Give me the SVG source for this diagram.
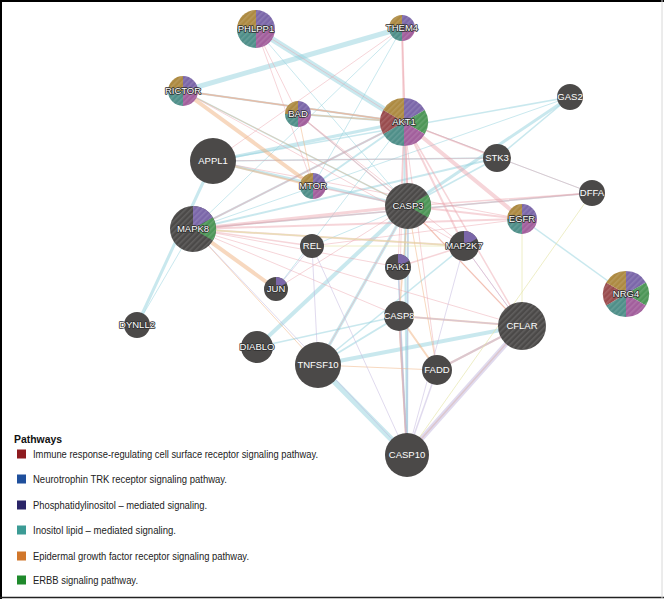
<svg xmlns="http://www.w3.org/2000/svg" width="664" height="599" viewBox="0 0 664 599">
<defs>
<pattern id="hatch" width="4" height="4" patternUnits="userSpaceOnUse" patternTransform="rotate(45)">
<rect width="1.6" height="4" fill="#ffffff" opacity="0.12"/>
</pattern>
<style>
.bg{fill:#ffffff}
.e line{fill:none;stroke-linecap:round}
.b{stroke:#93d2dd;opacity:0.5}
.p{stroke:#eba2ab;opacity:0.45}
.o{stroke:#f0b27f;opacity:0.5}
.l{stroke:#c2b5de;opacity:0.5}
.y{stroke:#e3e2a2;opacity:0.6}
.base{fill:#4b4948}
.hat{fill:url(#hatch)}
.sO{fill:#ad8a42}
.sP{fill:#7b67a9}
.sG{fill:#4d9657}
.sK{fill:#a25f9c}
.sT{fill:#4f8f89}
.sR{fill:#994c4e}
.lbl{font-family:"Liberation Sans",Arial,sans-serif;font-size:9.5px;fill:#ffffff;text-anchor:middle}
.lbo{font-family:"Liberation Sans",Arial,sans-serif;font-size:9.5px;fill:#ffffff;text-anchor:middle;stroke:#2f2f2f;stroke-width:1.6;paint-order:stroke;stroke-linejoin:round}
.lg{font-family:"Liberation Sans",Arial,sans-serif;font-size:10.5px;fill:#222222}
.lgt{font-family:"Liberation Sans",Arial,sans-serif;font-size:10.5px;font-weight:bold;fill:#111111}
</style>
</defs>
<rect class="bg" x="0" y="0" width="664" height="599"/>

<g id="connectors" class="e">
<!-- blue -->
<line class="b" x1="256" y1="29" x2="404" y2="122" stroke-width="6"/>
<line class="b" x1="402" y1="28" x2="183" y2="91" stroke-width="5"/>
<line class="b" x1="137" y1="325" x2="213" y2="161" stroke-width="3"/>
<line class="b" x1="570" y1="97" x2="408" y2="206" stroke-width="3"/>
<line class="b" x1="570" y1="97" x2="497" y2="158" stroke-width="1.5"/>
<line class="b" x1="570" y1="97" x2="213" y2="161" stroke-width="1.5"/>
<line class="b" x1="570" y1="97" x2="193" y2="229" stroke-width="1"/>
<line class="b" x1="318" y1="365" x2="407" y2="455" stroke-width="6"/>
<line class="b" x1="318" y1="365" x2="522" y2="326" stroke-width="4"/>
<line class="b" x1="257" y1="347" x2="408" y2="206" stroke-width="4"/>
<line class="b" x1="318" y1="365" x2="408" y2="206" stroke-width="3"/>
<line class="b" x1="318" y1="365" x2="399" y2="316" stroke-width="2"/>
<line class="b" x1="213" y1="161" x2="404" y2="122" stroke-width="3"/>
<line class="b" x1="183" y1="91" x2="404" y2="122" stroke-width="2"/>
<line class="b" x1="193" y1="229" x2="404" y2="122" stroke-width="2"/>
<line class="b" x1="213" y1="161" x2="408" y2="206" stroke-width="3"/>
<line class="b" x1="313" y1="186" x2="404" y2="122" stroke-width="2"/>
<line class="b" x1="497" y1="158" x2="193" y2="229" stroke-width="2"/>
<line class="b" x1="497" y1="158" x2="213" y2="161" stroke-width="1.5"/>
<line class="b" x1="497" y1="158" x2="408" y2="206" stroke-width="1.5"/>
<line class="b" x1="522" y1="219" x2="626" y2="294" stroke-width="1.5"/>
<line class="b" x1="298" y1="114" x2="404" y2="122" stroke-width="2"/>
<line class="b" x1="183" y1="91" x2="408" y2="206" stroke-width="1.5"/>
<line class="b" x1="408" y1="206" x2="407" y2="455" stroke-width="2"/>
<line class="b" x1="592" y1="193" x2="193" y2="229" stroke-width="1.5"/>
<line class="b" x1="592" y1="193" x2="404" y2="122" stroke-width="1"/>
<line class="b" x1="404" y1="122" x2="407" y2="455" stroke-width="2"/>
<line class="b" x1="402" y1="28" x2="313" y2="186" stroke-width="1"/>
<line class="b" x1="402" y1="28" x2="193" y2="229" stroke-width="1"/>
<line class="b" x1="298" y1="114" x2="408" y2="206" stroke-width="1"/>
<line class="b" x1="312" y1="246" x2="408" y2="206" stroke-width="1"/>
<line class="b" x1="257" y1="347" x2="399" y2="316" stroke-width="1.5"/>
<line class="b" x1="137" y1="325" x2="193" y2="229" stroke-width="1"/>
<line class="b" x1="256" y1="29" x2="408" y2="206" stroke-width="1"/>
<line class="b" x1="276" y1="289" x2="404" y2="122" stroke-width="1"/>
<line class="b" x1="318" y1="365" x2="464" y2="246" stroke-width="1.5"/>
<line class="b" x1="398" y1="267" x2="407" y2="455" stroke-width="1.5"/>
<!-- pink -->
<line class="p" x1="404" y1="122" x2="522" y2="219" stroke-width="4"/>
<line class="p" x1="193" y1="229" x2="408" y2="206" stroke-width="3"/>
<line class="p" x1="193" y1="229" x2="464" y2="246" stroke-width="2"/>
<line class="p" x1="193" y1="229" x2="522" y2="219" stroke-width="2"/>
<line class="p" x1="408" y1="206" x2="522" y2="219" stroke-width="2"/>
<line class="p" x1="402" y1="28" x2="404" y2="122" stroke-width="2"/>
<line class="p" x1="402" y1="28" x2="408" y2="206" stroke-width="1.5"/>
<line class="p" x1="256" y1="29" x2="313" y2="186" stroke-width="1"/>
<line class="p" x1="404" y1="122" x2="408" y2="206" stroke-width="2"/>
<line class="p" x1="298" y1="114" x2="408" y2="206" stroke-width="1.5"/>
<line class="p" x1="404" y1="122" x2="464" y2="246" stroke-width="2"/>
<line class="p" x1="183" y1="91" x2="464" y2="246" stroke-width="1"/>
<line class="p" x1="213" y1="161" x2="522" y2="219" stroke-width="1"/>
<line class="p" x1="193" y1="229" x2="592" y2="193" stroke-width="1.5"/>
<line class="p" x1="404" y1="122" x2="592" y2="193" stroke-width="1"/>
<line class="p" x1="408" y1="206" x2="592" y2="193" stroke-width="1.5"/>
<line class="p" x1="298" y1="114" x2="464" y2="246" stroke-width="1"/>
<line class="p" x1="404" y1="122" x2="522" y2="326" stroke-width="1.5"/>
<line class="p" x1="404" y1="122" x2="399" y2="316" stroke-width="1"/>
<line class="p" x1="398" y1="267" x2="464" y2="246" stroke-width="1.5"/>
<line class="p" x1="193" y1="229" x2="312" y2="246" stroke-width="1.5"/>
<line class="p" x1="193" y1="229" x2="404" y2="122" stroke-width="1.5"/>
<line class="p" x1="402" y1="28" x2="213" y2="161" stroke-width="1"/>
<line class="p" x1="256" y1="29" x2="298" y2="114" stroke-width="1"/>
<line class="p" x1="313" y1="186" x2="408" y2="206" stroke-width="1.5"/>
<line class="p" x1="213" y1="161" x2="497" y2="158" stroke-width="1"/>
<line class="p" x1="408" y1="206" x2="522" y2="326" stroke-width="1.5"/>
<line class="p" x1="276" y1="289" x2="408" y2="206" stroke-width="1"/>
<line class="p" x1="404" y1="122" x2="398" y2="267" stroke-width="1"/>
<line class="p" x1="183" y1="91" x2="404" y2="122" stroke-width="1.5"/>
<line class="p" x1="404" y1="122" x2="497" y2="158" stroke-width="1.5"/>
<line class="p" x1="193" y1="229" x2="399" y2="316" stroke-width="1"/>
<line class="p" x1="193" y1="229" x2="398" y2="267" stroke-width="1"/>
<line class="p" x1="464" y1="246" x2="522" y2="326" stroke-width="1"/>
<line class="p" x1="399" y1="316" x2="407" y2="455" stroke-width="1.5"/>
<line class="p" x1="256" y1="29" x2="404" y2="122" stroke-width="1"/>
<line class="p" x1="193" y1="229" x2="522" y2="326" stroke-width="1"/>
<line class="p" x1="312" y1="246" x2="522" y2="219" stroke-width="1"/>
<line class="p" x1="318" y1="365" x2="408" y2="206" stroke-width="1"/>
<line class="p" x1="404" y1="122" x2="437" y2="370" stroke-width="1"/>
<!-- orange -->
<line class="o" x1="183" y1="91" x2="313" y2="186" stroke-width="4"/>
<line class="o" x1="193" y1="229" x2="276" y2="289" stroke-width="4"/>
<line class="o" x1="213" y1="161" x2="313" y2="186" stroke-width="2"/>
<line class="o" x1="298" y1="114" x2="313" y2="186" stroke-width="1"/>
<line class="o" x1="399" y1="316" x2="522" y2="326" stroke-width="2"/>
<line class="o" x1="437" y1="370" x2="399" y2="316" stroke-width="2"/>
<line class="o" x1="437" y1="370" x2="522" y2="326" stroke-width="2"/>
<line class="o" x1="407" y1="455" x2="399" y2="316" stroke-width="2"/>
<line class="o" x1="193" y1="229" x2="318" y2="365" stroke-width="1"/>
<line class="o" x1="183" y1="91" x2="404" y2="122" stroke-width="1.5"/>
<line class="o" x1="408" y1="206" x2="399" y2="316" stroke-width="1.5"/>
<line class="o" x1="522" y1="326" x2="408" y2="206" stroke-width="1"/>
<line class="o" x1="318" y1="365" x2="437" y2="370" stroke-width="1"/>
<line class="o" x1="183" y1="91" x2="408" y2="206" stroke-width="1"/>
<line class="o" x1="298" y1="114" x2="404" y2="122" stroke-width="1.5"/>
<line class="o" x1="407" y1="455" x2="522" y2="326" stroke-width="1.5"/>
<line class="o" x1="437" y1="370" x2="408" y2="206" stroke-width="1"/>
<!-- lavender -->
<line class="l" x1="407" y1="455" x2="522" y2="326" stroke-width="5"/>
<line class="l" x1="437" y1="370" x2="522" y2="326" stroke-width="2"/>
<line class="l" x1="399" y1="316" x2="407" y2="455" stroke-width="1.5"/>
<line class="l" x1="312" y1="246" x2="318" y2="365" stroke-width="1"/>
<line class="l" x1="312" y1="246" x2="276" y2="289" stroke-width="1"/>
<line class="l" x1="398" y1="267" x2="407" y2="455" stroke-width="1"/>
<line class="l" x1="408" y1="206" x2="407" y2="455" stroke-width="1"/>
<line class="l" x1="522" y1="326" x2="399" y2="316" stroke-width="1.5"/>
<line class="l" x1="464" y1="246" x2="407" y2="455" stroke-width="1"/>
<line class="l" x1="464" y1="246" x2="522" y2="326" stroke-width="1"/>
<line class="l" x1="193" y1="229" x2="407" y2="455" stroke-width="1"/>
<line class="l" x1="312" y1="246" x2="407" y2="455" stroke-width="1"/>
<line class="l" x1="437" y1="370" x2="407" y2="455" stroke-width="1.5"/>
<!-- yellow -->
<line class="y" x1="592" y1="193" x2="407" y2="455" stroke-width="1"/>
<line class="y" x1="193" y1="229" x2="464" y2="246" stroke-width="1.5"/>
<line class="y" x1="312" y1="246" x2="464" y2="246" stroke-width="1"/>
<line class="y" x1="522" y1="219" x2="522" y2="326" stroke-width="1"/>
</g>

<g id="node-PHLPP1" transform="translate(256,29)">
<path class="sO" d="M0,0 L-19,0 A19,19 0 0 1 0,-19 Z"/>
<path class="sP" d="M0,0 L0,-19 A19,19 0 0 1 19,0 Z"/>
<path class="sK" d="M0,0 L19,0 A19,19 0 0 1 0,19 Z"/>
<path class="sT" d="M0,0 L0,19 A19,19 0 0 1 -19,0 Z"/>
<circle class="hat" r="19"/>
<text class="lbo" y="3.3">PHLPP1</text>
</g>
<g id="node-THEM4" transform="translate(402,28)">
<path class="sO" d="M0,0 L-13,0 A13,13 0 0 1 0,-13 Z"/>
<path class="sP" d="M0,0 L0,-13 A13,13 0 0 1 13,0 Z"/>
<path class="sK" d="M0,0 L13,0 A13,13 0 0 1 0,13 Z"/>
<path class="sT" d="M0,0 L0,13 A13,13 0 0 1 -13,0 Z"/>
<circle class="hat" r="13"/>
<text class="lbo" y="3.3">THEM4</text>
</g>
<g id="node-RICTOR" transform="translate(183,91)">
<path class="sO" d="M0,0 L-15,0 A15,15 0 0 1 0,-15 Z"/>
<path class="sP" d="M0,0 L0,-15 A15,15 0 0 1 15,0 Z"/>
<path class="sK" d="M0,0 L15,0 A15,15 0 0 1 0,15 Z"/>
<path class="sT" d="M0,0 L0,15 A15,15 0 0 1 -15,0 Z"/>
<circle class="hat" r="15"/>
<text class="lbo" y="3.3">RICTOR</text>
</g>
<g id="node-BAD" transform="translate(298,114)">
<path class="sO" d="M0,0 L-13,0 A13,13 0 0 1 0,-13 Z"/>
<path class="sP" d="M0,0 L0,-13 A13,13 0 0 1 13,0 Z"/>
<path class="sK" d="M0,0 L13,0 A13,13 0 0 1 0,13 Z"/>
<path class="sT" d="M0,0 L0,13 A13,13 0 0 1 -13,0 Z"/>
<circle class="hat" r="13"/>
<text class="lbo" y="3.3">BAD</text>
</g>
<g id="node-AKT1" transform="translate(404,122)">
<path class="sP" d="M0,0 L0,-24 A24,24 0 0 1 20.78,-12 Z"/>
<path class="sG" d="M0,0 L20.78,-12 A24,24 0 0 1 20.78,12 Z"/>
<path class="sK" d="M0,0 L20.78,12 A24,24 0 0 1 0,24 Z"/>
<path class="sT" d="M0,0 L0,24 A24,24 0 0 1 -20.78,12 Z"/>
<path class="sR" d="M0,0 L-20.78,12 A24,24 0 0 1 -20.78,-12 Z"/>
<path class="sO" d="M0,0 L-20.78,-12 A24,24 0 0 1 0,-24 Z"/>
<circle class="hat" r="24"/>
<text class="lbo" y="3.3">AKT1</text>
</g>
<g id="node-GAS2" transform="translate(570,97)">
<circle class="base" r="13"/>
<text class="lbl" y="3.3">GAS2</text>
</g>
<g id="node-APPL1" transform="translate(213,161)">
<circle class="base" r="23"/>
<text class="lbl" y="3.3">APPL1</text>
</g>
<g id="node-STK3" transform="translate(497,158)">
<circle class="base" r="14"/>
<text class="lbl" y="3.3">STK3</text>
</g>
<g id="node-MTOR" transform="translate(313,186)">
<path class="sO" d="M0,0 L-13,0 A13,13 0 0 1 0,-13 Z"/>
<path class="sP" d="M0,0 L0,-13 A13,13 0 0 1 13,0 Z"/>
<path class="sK" d="M0,0 L13,0 A13,13 0 0 1 0,13 Z"/>
<path class="sT" d="M0,0 L0,13 A13,13 0 0 1 -13,0 Z"/>
<circle class="hat" r="13"/>
<text class="lbo" y="3.3">MTOR</text>
</g>
<g id="node-DFFA" transform="translate(592,193)">
<circle class="base" r="13"/>
<text class="lbl" y="3.3">DFFA</text>
</g>
<g id="node-CASP3" transform="translate(408,206)">
<circle class="base" r="23"/>
<path class="sG" d="M0,0 L19.92,-11.5 A23,23 0 0 1 19.92,11.5 Z"/>
<circle class="hat" r="23"/>
<text class="lbo" y="3.3">CASP3</text>
</g>
<g id="node-EGFR" transform="translate(522,219)">
<path class="sO" d="M0,0 L-15,0 A15,15 0 0 1 0,-15 Z"/>
<path class="sP" d="M0,0 L0,-15 A15,15 0 0 1 15,0 Z"/>
<path class="sK" d="M0,0 L15,0 A15,15 0 0 1 0,15 Z"/>
<path class="sT" d="M0,0 L0,15 A15,15 0 0 1 -15,0 Z"/>
<circle class="hat" r="15"/>
<text class="lbo" y="3.3">EGFR</text>
</g>
<g id="node-MAPK8" transform="translate(193,229)">
<circle class="base" r="23"/>
<path class="sP" d="M0,0 L0,-23 A23,23 0 0 1 19.92,-11.5 Z"/>
<path class="sG" d="M0,0 L19.92,-11.5 A23,23 0 0 1 19.92,11.5 Z"/>
<circle class="hat" r="23"/>
<text class="lbo" y="3.3">MAPK8</text>
</g>
<g id="node-REL" transform="translate(312,246)">
<circle class="base" r="12"/>
<text class="lbl" y="3.3">REL</text>
</g>
<g id="node-MAP2K7" transform="translate(464,246)">
<circle class="base" r="15"/>
<path class="sP" d="M0,0 L0,-15 A15,15 0 0 1 12.99,-7.5 Z"/>
<text class="lbo" y="3.3">MAP2K7</text>
</g>
<g id="node-PAK1" transform="translate(398,267)">
<circle class="base" r="13"/>
<path class="sP" d="M0,0 L0,-13 A13,13 0 0 1 11.26,-6.5 Z"/>
<text class="lbo" y="3.3">PAK1</text>
</g>
<g id="node-JUN" transform="translate(276,289)">
<circle class="base" r="12"/>
<path class="sP" d="M0,0 L0,-12 A12,12 0 0 1 10.39,-6 Z"/>
<text class="lbo" y="3.3">JUN</text>
</g>
<g id="node-NRG4" transform="translate(626,294)">
<path class="sP" d="M0,0 L0,-23 A23,23 0 0 1 19.92,-11.5 Z"/>
<path class="sG" d="M0,0 L19.92,-11.5 A23,23 0 0 1 19.92,11.5 Z"/>
<path class="sK" d="M0,0 L19.92,11.5 A23,23 0 0 1 0,23 Z"/>
<path class="sT" d="M0,0 L0,23 A23,23 0 0 1 -19.92,11.5 Z"/>
<path class="sR" d="M0,0 L-19.92,11.5 A23,23 0 0 1 -19.92,-11.5 Z"/>
<path class="sO" d="M0,0 L-19.92,-11.5 A23,23 0 0 1 0,-23 Z"/>
<circle class="hat" r="23"/>
<text class="lbo" y="3.3">NRG4</text>
</g>
<g id="node-CASP8" transform="translate(399,316)">
<circle class="base" r="15"/>
<text class="lbl" y="3.3">CASP8</text>
</g>
<g id="node-CFLAR" transform="translate(522,326)">
<circle class="base" r="24"/>
<circle class="hat" r="24"/>
<text class="lbl" y="3.3">CFLAR</text>
</g>
<g id="node-DYNLL2" transform="translate(137,325)">
<circle class="base" r="13"/>
<text class="lbo" y="3.3">DYNLL2</text>
</g>
<g id="node-DIABLO" transform="translate(257,347)">
<circle class="base" r="16"/>
<text class="lbo" y="3.3">DIABLO</text>
</g>
<g id="node-TNFSF10" transform="translate(318,365)">
<circle class="base" r="23"/>
<text class="lbl" y="3.3">TNFSF10</text>
</g>
<g id="node-FADD" transform="translate(437,370)">
<circle class="base" r="15"/>
<text class="lbl" y="3.3">FADD</text>
</g>
<g id="node-CASP10" transform="translate(407,455)">
<circle class="base" r="22"/>
<text class="lbl" y="3.3">CASP10</text>
</g>

<g id="legend">
<text class="lgt" x="14" y="443" textLength="48" lengthAdjust="spacingAndGlyphs">Pathways</text>
<rect x="17" y="449.5" width="9" height="9" fill="#8e1b1f"/>
<text class="lg" x="33" y="457.5" textLength="285" lengthAdjust="spacingAndGlyphs">Immune response-regulating cell surface receptor signaling pathway.</text>
<rect x="17" y="474.5" width="9" height="9" fill="#1f4f9c"/>
<text class="lg" x="33" y="482.5" textLength="194" lengthAdjust="spacingAndGlyphs">Neurotrophin TRK receptor signaling pathway.</text>
<rect x="17" y="500.5" width="9" height="9" fill="#2a2568"/>
<text class="lg" x="33" y="508.5" textLength="174" lengthAdjust="spacingAndGlyphs">Phosphatidylinositol – mediated signaling.</text>
<rect x="17" y="525.5" width="9" height="9" fill="#3c9b95"/>
<text class="lg" x="33" y="533.5" textLength="143" lengthAdjust="spacingAndGlyphs">Inositol lipid – mediated signaling.</text>
<rect x="17" y="551.5" width="9" height="9" fill="#d1772b"/>
<text class="lg" x="33" y="559.5" textLength="216" lengthAdjust="spacingAndGlyphs">Epidermal growth factor receptor signaling pathway.</text>
<rect x="17" y="575.5" width="9" height="9" fill="#1f8a2c"/>
<text class="lg" x="33" y="583.5" textLength="105" lengthAdjust="spacingAndGlyphs">ERBB signaling pathway.</text>
</g>

<g id="frame">
<line x1="0" y1="1" x2="664" y2="1" stroke="#000000" stroke-width="2"/>
<line x1="1" y1="0" x2="1" y2="599" stroke="#000000" stroke-width="2"/>
<line x1="0" y1="597.5" x2="664" y2="597.5" stroke="#222222" stroke-width="1.5"/>
<line x1="662" y1="0" x2="662" y2="599" stroke="#d8d8d8" stroke-width="1"/>
</g>
</svg>
